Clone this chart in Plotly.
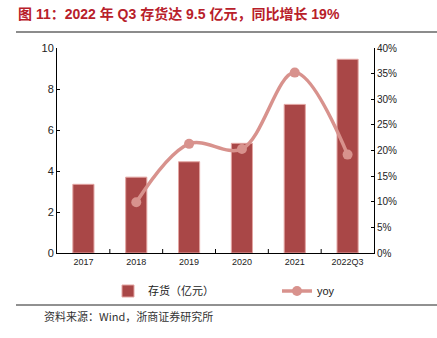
import plotly.graph_objects as go

categories = ["2017", "2018", "2019", "2020", "2021", "2022Q3"]
inventory = [3.35, 3.7, 4.45, 5.35, 7.25, 9.45]
yoy_cats = ["2018", "2019", "2020", "2021", "2022Q3"]
yoy = [9.9, 21.3, 20.3, 35.2, 19.2]
left_ticks = [0, 2, 4, 6, 8, 10]
right_ticks = [0, 5, 10, 15, 20, 25, 30, 35, 40]
right_labels = [f"{v}%" for v in right_ticks]

BAR = "#A94747"
LINE = "#D8928D"
CJK = "Noto Sans CJK SC"
LAT = "Liberation Sans"

PW, PH = 317, 205  # plot area size in px

def px_x(p):
    return (p - 57) / PW

def px_y(p):
    return (253 - p) / PH

fig = go.Figure()
fig.add_trace(go.Bar(
    x=categories, y=inventory, name="存货（亿元）",
    marker=dict(color=BAR, line=dict(color="#E3A5A2", width=1)),
    width=0.4, yaxis="y", legend="legend",
))
fig.add_trace(go.Scatter(
    x=yoy_cats, y=yoy, name="yoy", mode="lines+markers",
    line=dict(color=LINE, width=3.5, shape="spline", smoothing=1.0),
    marker=dict(color=LINE, size=10),
    yaxis="y2", legend="legend2",
))

legend_common = dict(orientation="h", yanchor="middle", xanchor="left",
                     bgcolor="rgba(0,0,0,0)",
                     font=dict(family=f"{LAT}, {CJK}", size=11, color="#222"))

fig.update_layout(
    width=437, height=338,
    margin=dict(l=57, r=63, t=48, b=85, autoexpand=False),
    paper_bgcolor="white", plot_bgcolor="white",
    showlegend=True,
    legend=dict(x=px_x(108), y=px_y(291), **legend_common),
    legend2=dict(x=px_x(277), y=px_y(291), **legend_common),
    font=dict(family=f"{LAT}, {CJK}", color="#222"),
    xaxis=dict(
        type="category", showline=True, linecolor="#000", linewidth=1,
        ticks="", showgrid=False, tickfont=dict(size=9, color="#222"),
        range=[-0.5, 5.5],
    ),
    yaxis=dict(
        range=[0, 10], tickvals=left_ticks, showline=True, linecolor="#000", linewidth=1,
        ticks="inside", ticklen=3, tickcolor="#000", showgrid=False, zeroline=False,
        tickfont=dict(size=11, color="#222"),
    ),
    yaxis2=dict(
        range=[0, 40], tickvals=right_ticks, ticktext=right_labels, overlaying="y", side="right",
        showline=True, linecolor="#000", linewidth=1,
        ticks="inside", ticklen=3, tickcolor="#000", showgrid=False, zeroline=False,
        tickfont=dict(size=10, color="#222"),
    ),
    bargap=0.6,
)

# category boundary tick marks on x axis
for i in range(1, len(categories)):
    fig.add_shape(type="line", xref="x", yref="paper", x0=i - 0.5, x1=i - 0.5, y0=0, y1=4 / PH,
                  line=dict(color="#000", width=1))

# title
fig.add_annotation(text="<b>图 11：2022 年 Q3 存货达 9.5 亿元，同比增长 19%</b>",
                   xref="paper", yref="paper", x=px_x(16), y=px_y(14), xanchor="left", yanchor="middle",
                   showarrow=False, font=dict(family=f"{LAT}, {CJK}", size=14, color="#B8202A"))
# separator lines
fig.add_shape(type="line", xref="paper", yref="paper", x0=px_x(16), x1=px_x(437),
              y0=px_y(32), y1=px_y(32), line=dict(color="#8C8C8C", width=2))
fig.add_shape(type="line", xref="paper", yref="paper", x0=px_x(16), x1=px_x(437),
              y0=px_y(305), y1=px_y(305), line=dict(color="#222", width=1))
fig.add_annotation(text="资料来源：Wind，浙商证券研究所",
                   xref="paper", yref="paper", x=px_x(42), y=px_y(316), xanchor="left", yanchor="middle",
                   showarrow=False, font=dict(family=f"{CJK}", size=11, color="#333"))

fig.write_html("out.html")
